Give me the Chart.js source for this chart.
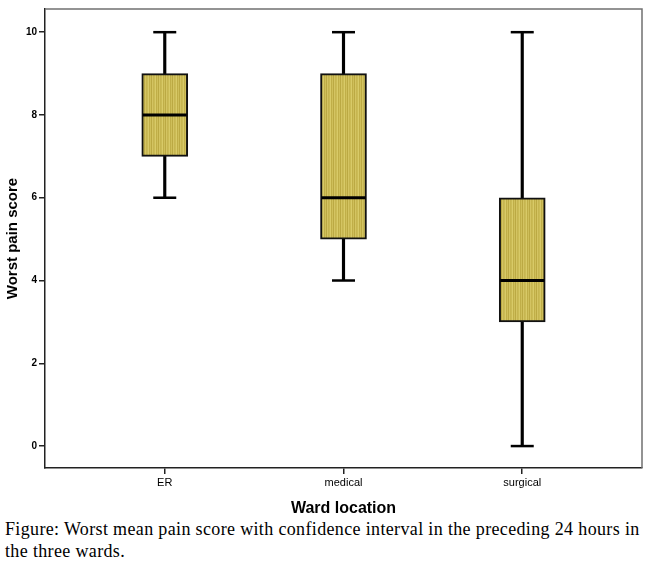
<!DOCTYPE html>
<html>
<head>
<meta charset="utf-8">
<script src="https://cdn.jsdelivr.net/npm/chart.js@4"></script>
<style>
  body { margin: 0; background: #fff; }
  #wrap { width: 650px; height: 518px; }
  #caption {
    font-family: "Liberation Serif", "Times New Roman", serif;
    font-size: 18px; line-height: 22px; color: #000;
    letter-spacing: 0.35px;
    padding-left: 5px; white-space: nowrap;
  }
</style>
</head>
<body>
<div id="wrap"><canvas id="chart1"></canvas></div>
<div id="caption">Figure: Worst mean pain score with confidence interval in the preceding 24 hours in<br>the three wards.</div>
<script>
// box plot values
const wards = ['ER', 'medical', 'surgical'];
const lowWhisker = [6, 4, 0];
const q1 = [7, 5, 3];
const median = [8, 6, 4];
const q3 = [9, 9, 6];
const highWhisker = [10, 10, 10];
const yTicks = [0, 2, 4, 6, 8, 10];

// striped olive fill like the SPSS boxes
function stripes() {
  const c = document.createElement('canvas');
  const cols = ['#cbbb55', '#d8ca68', '#c0ae48', '#cfbf5a', '#bba943', '#d4c462', '#c6b550'];
  c.width = cols.length; c.height = 1;
  const g = c.getContext('2d');
  cols.forEach((col, i) => { g.fillStyle = col; g.fillRect(i, 0, 1, 1); });
  return g.createPattern(c, 'repeat');
}

// top/right edges of the plot frame
const frame = {
  id: 'frame',
  afterDraw(chart) {
    const a = chart.chartArea, ctx = chart.ctx;
    ctx.save();
    ctx.strokeStyle = '#707070';
    ctx.lineWidth = 1.5;
    ctx.beginPath();
    ctx.moveTo(a.left, a.top);
    ctx.lineTo(a.right, a.top);
    ctx.lineTo(a.right, a.bottom);
    ctx.stroke();
    ctx.restore();
  }
};

// no extra room for the edge labels
function noPad(axis) {
  axis.paddingLeft = 0;
  axis.paddingRight = 0;
  axis.paddingTop = 0;
  axis.paddingBottom = 0;
}

const chart = document.getElementById('chart1');
new Chart(chart, {
  type: 'bar',
  data: {
    datasets: [{
      // whisker lines
      data: wards.map((w, i) => ({ x: i, y: [lowWhisker[i], highWhisker[i]] })),
      backgroundColor: '#000',
      barThickness: 2.5,
      grouped: false,
      order: 3
    }, {
      // boxes
      data: wards.map((w, i) => ({ x: i, y: [q1[i], q3[i]] })),
      backgroundColor: stripes(),
      borderColor: '#111',
      borderWidth: 2,
      borderSkipped: false,
      barThickness: 46,
      grouped: false,
      order: 2
    }, {
      // medians
      type: 'line',
      data: wards.map((w, i) => ({ x: i, y: median[i] })),
      showLine: false,
      pointStyle: 'line',
      pointRadius: 22,
      pointBorderWidth: 3,
      pointBorderColor: '#000',
      order: 1
    }, {
      // whisker caps
      type: 'line',
      data: wards.flatMap((w, i) => [{ x: i, y: lowWhisker[i] }, { x: i, y: highWhisker[i] }]),
      showLine: false,
      pointStyle: 'line',
      pointRadius: 11.5,
      pointBorderWidth: 2.5,
      pointBorderColor: '#000',
      order: 0
    }]
  },
  options: {
    responsive: true,
    maintainAspectRatio: false,
    animation: false,
    layout: { autoPadding: false, padding: { top: 9, right: 8, left: 0, bottom: 0 } },
    plugins: { legend: { display: false }, tooltip: { enabled: false } },
    scales: {
      x: {
        type: 'linear',
        offset: false,
        min: -0.67,
        max: 2.67,
        afterBuildTicks: axis => { axis.ticks = wards.map((w, i) => ({ value: i })); },
        afterFit: axis => { axis.height = 50; noPad(axis); },
        ticks: {
          callback: v => wards[v],
          color: '#000',
          maxRotation: 0,
          padding: 2,
          font: { family: 'Liberation Sans', size: 11 }
        },
        grid: { offset: false, drawOnChartArea: false, tickLength: 6, color: '#222', lineWidth: 1.5 },
        border: { color: '#222', width: 1.5 },
        title: {
          display: true,
          text: 'Ward location',
          color: '#000',
          padding: { top: 0, bottom: 0 },
          font: { family: 'Liberation Sans', size: 16, weight: 'bold' }
        }
      },
      y: {
        min: -0.53,
        max: 10.56,
        afterBuildTicks: axis => { axis.ticks = yTicks.map(v => ({ value: v })); },
        afterFit: axis => { axis.width = 45; noPad(axis); },
        ticks: {
          color: '#000',
          padding: 2,
          font: { family: 'Liberation Sans', size: 10, weight: 'bold' }
        },
        grid: { drawOnChartArea: false, tickLength: 6, color: '#222', lineWidth: 1.5 },
        border: { color: '#222', width: 1.5 },
        title: {
          display: true,
          text: 'Worst pain score',
          color: '#000',
          padding: { top: 4, bottom: 0 },
          font: { family: 'Liberation Sans', size: 15, weight: 'bold' }
        }
      }
    }
  },
  plugins: [frame]
});
</script>
</body>
</html>
